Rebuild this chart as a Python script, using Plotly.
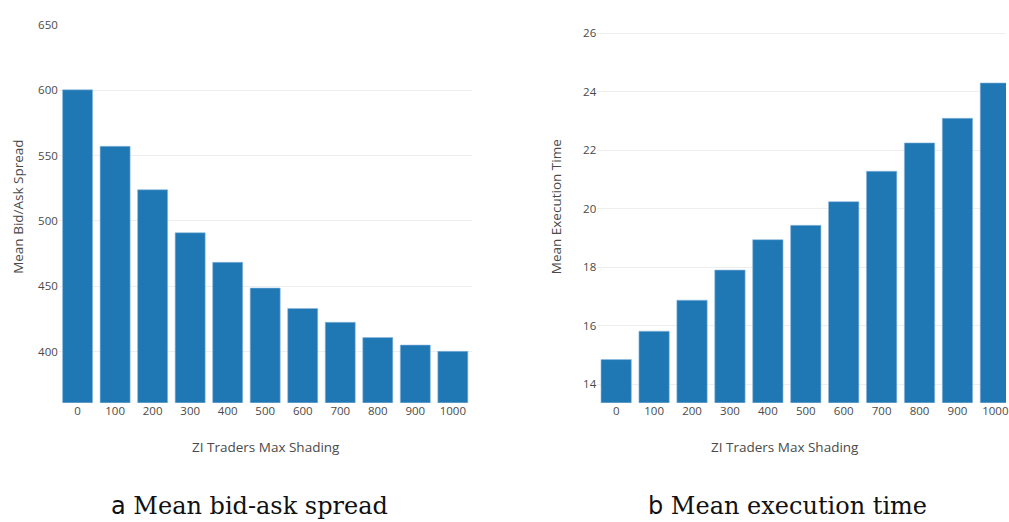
import plotly.graph_objects as go

W, H = 1009, 522

shading = ["0", "100", "200", "300", "400", "500", "600", "700", "800", "900", "1000"]
spread = [600.2, 557.0, 523.8, 490.9, 468.3, 448.6, 433.0, 422.4, 410.7, 405.0, 400.2]
exec_time = [14.84, 15.81, 16.87, 17.90, 18.94, 19.43, 20.24, 21.28, 22.25, 23.09, 24.30]

y_title_a = "Mean Bid/Ask Spread"
y_title_b = "Mean Execution Time"
x_title = "ZI Traders Max Shading"
caption_a = ("a", "Mean bid-ask spread")
caption_b = ("b", "Mean execution time")

BAR = "#1f77b4"
TICK_FONT = dict(family="Open Sans", size=11.5, color="#4a4a4a")
TITLE_FONT = dict(family="Open Sans", size=13.5, color="#4a4a4a")


def px(x):
    return x / W


def py(y):
    return (H - y) / H


fig = go.Figure()
fig.add_trace(go.Bar(x=shading, y=spread, marker=dict(color=BAR, line=dict(width=0.6, color="#8fbbe0")),
                     xaxis="x", yaxis="y", showlegend=False))
fig.add_trace(go.Bar(x=shading, y=exec_time, marker=dict(color=BAR, line=dict(width=0.6, color="#8fbbe0")),
                     xaxis="x2", yaxis="y2", showlegend=False))

plot_top, plot_bot = 17, 401
ydom = [py(plot_bot), py(plot_top)]

common_x = dict(showgrid=False, zeroline=False, showline=False, ticks="",
                tickfont=TICK_FONT, type="category", fixedrange=True)
common_y = dict(showgrid=True, gridcolor="#eeeeee", gridwidth=1, zeroline=False,
                showline=False, ticks="", tickfont=TICK_FONT, fixedrange=True)

fig.update_layout(
    width=W, height=H,
    margin=dict(l=0, r=0, t=0, b=0),
    paper_bgcolor="white", plot_bgcolor="white",
    bargap=0.2,
    xaxis=dict(domain=[px(59), px(473)], anchor="y", range=[-0.5, 10.5], **common_x),
    yaxis=dict(domain=ydom, anchor="x", range=[360.8, 650], tick0=0, dtick=50, **common_y),
    xaxis2=dict(domain=[px(599), 1.0], anchor="y2", range=[-0.5, 10.28], **common_x),
    yaxis2=dict(domain=ydom, anchor="x2", range=[13.36, 26.29], tick0=0, dtick=2, **common_y),
)

annotations = [
    dict(x=px(267), y=py(446), text=x_title, font=TITLE_FONT, yanchor="middle"),
    dict(x=px(787), y=py(446), text=x_title, font=TITLE_FONT, yanchor="middle"),
    dict(x=px(18), y=py(202), text=y_title_a, font=TITLE_FONT, textangle=-90, yanchor="middle"),
    dict(x=px(558), y=py(202), text=y_title_b, font=TITLE_FONT, textangle=-90, yanchor="middle"),
]
for cx, cap in ((250, caption_a), (790, caption_b)):
    annotations.append(dict(
        x=px(cx), y=0, yanchor="bottom",
        text=f'<span style="font-family:DejaVu Sans">{cap[0]}</span> {cap[1]}',
        font=dict(family="DejaVu Serif", size=24, color="#111"),
    ))
for a in annotations:
    a.update(xref="paper", yref="paper", showarrow=False, xanchor="center")
fig.update_layout(annotations=annotations)

fig.write_html(
    "out.html",
    config=dict(displayModeBar=False),
    post_script="document.body.style.margin='0';document.body.style.overflow='hidden';",
)
